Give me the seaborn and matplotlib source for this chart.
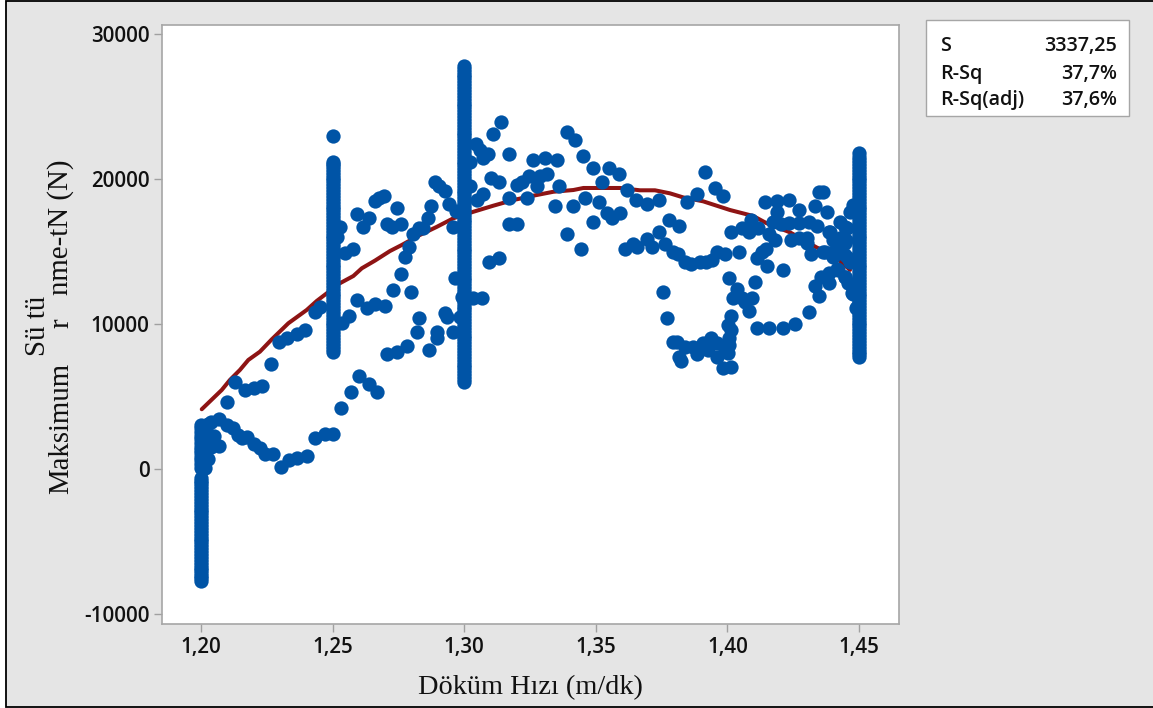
import numpy as np
import pandas as pd
import matplotlib
matplotlib.use("Agg")
import matplotlib.pyplot as plt
from matplotlib.patches import Rectangle
import seaborn as sns

col_120 = [-7700,-7550,-7400,-7200,-7000,-6800,-6600,-6400,-6200,-6000,-5800,-5600,-5400,-5200,-5000,-4800,-4600,-4400,-4200,-4000,-3800,-3600,
           -3400,-3200,-3000,-2800,-2600,-2400,-2200,-2000,-1800,-1600,-1400,-1200,-1000,-800,-600,
           100,350,600,850,1100,1300,1550,1800,2050,2300,2550,2800,3000]
col_125 = [8100,8300,8500,8700,8900,9100,9300,9500,9700,9900,10100,10300,10500,10700,10900,11100,11300,11500,11700,11900,12100,12300,12500,12700,
           12900,13100,13300,13500,13700,13900,14100,14300,14500,14700,14900,15100,15300,15500,15700,15900,16100,16300,16500,16700,16900,17100,17300,
           17500,17700,17900,18100,18300,18500,18700,18900,19100,19300,19500,19700,19900,20100,20300,20500,20700,20900,21050,21200,22970]
col_130 = [6000,6200,6400,6600,6800,7000,7200,7400,7600,7800,8000,8200,8400,8600,8800,9000,9200,9400,9600,9800,10000,10200,10400,10600,10800,11000,
           11200,11400,11600,11800,12000,12200,12400,12600,12800,13000,13200,13400,13600,13800,14000,14200,14400,14600,14800,15000,15200,15400,15600,
           15800,16000,16200,16400,16600,16800,17000,17200,17400,17600,17800,18000,18200,18400,18600,18800,19000,19200,19400,19600,19800,20000,20200,
           20400,20600,20800,21000,21200,21400,21600,21800,22000,22200,22400,22600,22800,23000,23200,23400,23600,23800,24000,24200,24400,24600,24800,
           25000,25200,25400,25600,25800,26000,26200,26400,26600,26800,27000,27200,27400,27600,27800]
col_145 = [7700,7900,8100,8300,8500,8700,8900,9100,9300,9500,9700,9900,10100,10300,10500,10700,10900,11100,11300,11500,11700,11900,12100,12300,
           12500,12700,12900,13100,13300,13500,13700,13900,14100,14300,14500,14700,14900,15100,15300,15500,15700,15900,16100,16300,16500,16700,16900,
           17100,17300,17500,17700,17900,18100,18300,18500,18700,18900,19100,19300,19500,19700,19900,20100,20300,20500,20700,20900,21100,21300,21500,21800]

lower_x = [1.2015,1.204,1.207,1.204,1.207,1.21,1.212,1.214,1.2155,1.2176,1.22,1.2224,1.2243,1.2275,1.2304,1.2336,1.2366,1.2404,1.2433,1.2471,1.2503,
           1.2532,1.257,1.26,1.2638,1.2669,1.2707,1.2746,1.2784,1.2822,1.283,1.2868,1.2898,1.2898,1.2928,1.2936,1.2958,1.2984,1.299,
           1.2012,1.2025,1.2015,1.2035,1.205,1.2025,1.2452]
lower_y = [2920,3260,3430,1540,1590,3030,2800,2340,2120,2190,1720,1430,1030,1030,160,620,740,900,2120,2410,2390,
           4190,5290,6390,5840,5290,7910,8050,8460,9430,10390,8190,9010,9430,10780,10500,9430,10500,11880,
           1200,700,100,2300,2300,3100,11190]

upper_x = [1.21,1.213,1.2168,1.22,1.2232,1.2267,1.2298,1.2328,1.2366,1.2396,1.2434,1.2528,1.2515,1.2547,1.2579,1.2594,1.2617,1.264,1.2661,1.2678,1.2695,
           1.2708,1.2725,1.2761,1.2746,1.2776,1.2791,1.2807,1.283,1.2845,1.2861,1.2875,1.289,1.2906,1.2928,1.2943,1.2956,1.2969,1.2761,1.2731,1.2799,1.2965,
           1.2594,1.2632,1.2662,1.27,1.2564,1.2535]
upper_y = [4600,5980,5430,5570,5700,7220,8740,9010,9290,9560,10800,16700,16020,14900,15190,17590,16700,17280,18500,18670,18830,
           16880,16700,16880,17980,14640,15330,16200,16600,16600,17280,18130,19790,19520,19170,18250,16700,17770,13430,12320,12190,13150,
           11640,11080,11360,11220,10530,10040]

mid_x = [1.3035,1.3067,1.3095,1.3133,1.3141,1.311,1.3045,1.306,1.3073,1.3092,1.3171,1.3022,1.3022,1.3073,1.3048,1.3102,1.3133,1.3171,1.3171,1.3202,
         1.32,1.3221,1.324,1.3247,1.3263,1.3278,1.3288,1.3316,1.3308,1.3354,1.3361,1.3346,1.3392,1.3422,1.3453,1.3491,1.3522,1.3551,1.3589,1.362,1.3653,
         1.3415,1.346,1.3513,1.3491,1.3544,1.356,1.3592,1.3392,1.3445,1.3611,1.3642]
mid_y = [11770,11770,14250,14530,23910,23080,22390,22000,21430,21700,21700,21190,19520,18950,18550,20070,19790,18670,16880,16880,
         19620,19790,18670,20210,21290,19520,20210,20340,21430,21290,19520,18110,23220,22660,21560,20740,19790,20740,20320,19220,18550,
         18110,18670,18390,17010,17630,17280,17630,16200,15190,15190,15520]

right_x = [1.3695,1.3741,1.3848,1.3886,1.3916,1.3953,1.3984,1.3779,1.3817,1.3741,1.3695,1.3658,1.3712,1.3764,1.3792,1.3813,1.384,1.3863,1.3896,1.3919,1.3941,
           1.3962,1.3992,1.4045,1.4007,1.3756,1.3772,1.3792,1.381,1.3817,1.3825,1.384,1.387,1.3886,1.3908,1.3939,1.3927,1.3962,1.3962,1.3985,1.4013,1.4004,
           1.4007,1.399,1.4007,1.4013,1.4004,1.4015,1.4083,1.4022,1.4038,1.4054,1.4067,1.4092,1.4106,1.4114,1.4159,1.4212,1.4258,1.4311,1.4349,1.4334,1.4355,
           1.4387,1.4387,1.4418,1.4447,1.446,1.4476,1.4489,
           1.4015,1.4054,1.4083,1.4091,1.4118,1.4111,1.413,1.4146,1.4152,1.4212,1.4143,1.419,1.4235,1.419,1.4273,1.4334,1.4349,1.4365,1.438,
           1.4159,1.4182,1.4174,1.4205,1.4235,1.4273,1.4311,1.4342,1.4241,1.4273,1.4301,1.4304,1.4319,1.4372,1.4402,1.4387,1.4402,1.4425,1.4447,1.4453,1.446,1.4464,1.4479,
           1.4447,1.439,1.4428,1.4401,1.4447,1.4363,1.442,1.4447,1.4472,1.4491,1.4428,1.4451,1.4466]
right_y = [18250,18530,18420,18950,20460,19360,18810,17150,16730,16320,15840,15280,15280,15500,14940,14800,14250,14110,14250,14250,14390,
           14990,14800,14940,13150,12190,10390,8730,8730,7740,7430,8430,8430,7910,8670,9010,8210,8670,7740,6940,7050,8020,
           8550,8210,9010,9590,9930,10550,10920,11770,12390,11770,11500,11770,12870,9700,9700,9700,9980,10800,11930,12620,13260,
           12850,13500,13780,13260,12800,12050,11090,
           16320,16600,16320,17150,16600,14530,14940,15150,13980,13700,18390,18460,18530,17700,17840,18110,19080,19080,17700,
           16190,15770,17010,16880,16950,16950,17010,16730,15770,15910,15910,15570,14800,14940,14650,16320,15800,15330,15570,16600,14530,17740,18200,
           16710,16370,15930,14990,14760,14990,13720,13260,12140,11190,17030,15790,14280]

fit_x = [1.2003,1.2079,1.211,1.2148,1.218,1.2224,1.2269,1.2332,1.2402,1.244,1.2528,1.2579,1.2611,1.2661,1.2718,1.2763,1.2832,1.2896,1.2959,1.3035,1.3111,
         1.3187,1.3263,1.3339,1.3415,1.3453,1.3592,1.3668,1.3725,1.3782,1.3832,1.3908,1.401,1.4098,1.4149,1.4238,1.4339,1.4402,1.4466]
fit_y = [4120,5450,6140,6830,7520,8090,8940,10050,10970,11590,12810,13310,13840,14370,15030,15450,16140,16700,17290,17740,18160,
         18550,18850,19120,19240,19380,19380,19220,19220,19010,18730,18460,17860,17450,16950,16320,15280,14750,13730]

x_ticks = [1.20,1.25,1.30,1.35,1.40,1.45]
x_tick_labels = ["1,20","1,25","1,30","1,35","1,40","1,45"]
y_ticks = [-10000,0,10000,20000,30000]
y_tick_labels = ["-10000","0","10000","20000","30000"]
stats_names = ["S","R-Sq","R-Sq(adj)"]
stats_values = ["3337,25","37,7%","37,6%"]

W, H = 1153, 708
sns.set_theme(style="white")
plt.rcParams['font.family'] = ['Open Sans', 'DejaVu Sans']

points = pd.DataFrame({
    "x": [1.20]*len(col_120)+[1.25]*len(col_125)+[1.30]*len(col_130)+[1.45]*len(col_145)+lower_x+upper_x+mid_x+right_x,
    "y": col_120+col_125+col_130+col_145+lower_y+upper_y+mid_y+right_y,
})
fit = pd.DataFrame({"x": fit_x, "y": fit_y})

fig = plt.figure(figsize=(W/100, H/100), dpi=100, facecolor="white")
fig.add_artist(Rectangle((6/W, 1-706.5/H), (W+10)/W, 705.5/H, transform=fig.transFigure,
                         facecolor="#E5E5E5", edgecolor="black", linewidth=1.3, zorder=-5))
ax = fig.add_axes([162/W, 1-624/H, (899-162)/W, (624-25)/H], facecolor="white")

sns.lineplot(data=fit, x="x", y="y", ax=ax, color="#8E1414", linewidth=2.9, sort=False, estimator=None, zorder=2)
sns.scatterplot(data=points, x="x", y="y", ax=ax, color="#0054A6", s=106, linewidth=0, zorder=3)

ax.set_xlim(1.1852, 1.4652)
ax.set_ylim(-10690, 30620)
ax.set_xticks(x_ticks, x_tick_labels)
ax.set_yticks(y_ticks, y_tick_labels)
ax.set_xlabel("")
ax.set_ylabel("")
ax.tick_params(axis="both", length=6, width=1, color="#A0A0A0", labelsize=14.8, labelcolor="#111111", pad=3,
               bottom=True, left=True)
for lab in ax.get_xticklabels()+ax.get_yticklabels():
    lab.set_fontweight(600)
for s in ax.spines.values():
    s.set_color("#A6A6A6")
    s.set_linewidth(1.2)

serif = "Liberation Serif"
fig.text(530/W, 1-688/H, "Döküm Hızı (m/dk)", ha="center", va="center", family=serif, fontsize=20.4, color="#111111")
def ylab(x, y, s):
    fig.text(x/W, 1-y/H, s, rotation=90, ha="left", va="baseline", family=serif, fontsize=20.8, color="#111111",
             rotation_mode="anchor")
ylab(68, 494, "Maksimum")
ylab(45, 356, "Sü tü")
ylab(68, 328, "r")
ylab(68, 295, "nme-tN (N)")

fig.add_artist(Rectangle((926/W, 1-116/H), 203/W, 96/H, transform=fig.transFigure,
                         facecolor="white", edgecolor="#A6A6A6", linewidth=1.0))
for name, val, yy in zip(stats_names, stats_values, [51, 79, 105]):
    fig.text(940/W, 1-yy/H, name, ha="left", va="baseline", fontsize=14.2, fontweight=600, color="#111111")
    fig.text(1117/W, 1-yy/H, val, ha="right", va="baseline", fontsize=14.2, fontweight=600, color="#111111")

fig.savefig("out.png", dpi=100, facecolor=fig.get_facecolor())
